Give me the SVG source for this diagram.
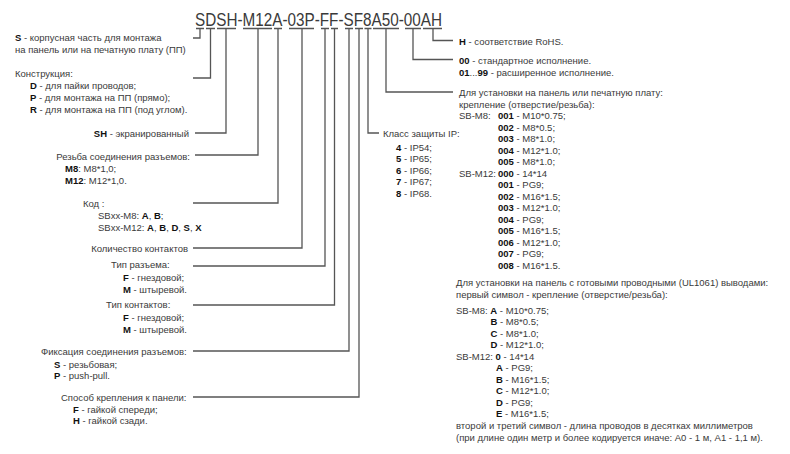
<svg xmlns="http://www.w3.org/2000/svg" width="790" height="454" viewBox="0 0 790 454">
<style>
.t{font-family:"Liberation Sans",Arial,sans-serif;font-size:9.5px;fill:#3a3a3a}
.e{text-anchor:end}
.b{font-weight:bold;fill:#111}
.title{font-family:"Liberation Sans",Arial,sans-serif;font-size:18px;fill:#3a3a3a}
.ln{fill:none;stroke:#555;stroke-width:1.3}
</style>
<rect width="790" height="454" fill="#fff"/>
<g id="code">
<text class="title" x="195" y="26" textLength="247" lengthAdjust="spacingAndGlyphs">SDSH-M12A-03P-FF-SF8A50-00AH</text>
<path class="ln" d="M196 28.5H204M206 28.5H215M217 28.5H236M243 28.5H272M274 28.5H282M289 28.5H314M321 28.5H329M331 28.5H338M345 28.5H353M355 28.5H363M364.5 28.5H371.5M373 28.5H399M405 28.5H421M423 28.5H442"/>
</g>
<g id="connectors">
<path class="ln" d="M200 28.5V38H193"/>
<path class="ln" d="M210.5 28.5V78H193"/>
<path class="ln" d="M226 28.5V133H195"/>
<path class="ln" d="M258 28.5V155H195"/>
<path class="ln" d="M278 28.5V203H193"/>
<path class="ln" d="M302 28.5V248H193"/>
<path class="ln" d="M325 28.5V266H193"/>
<path class="ln" d="M334.5 28.5V305H193"/>
<path class="ln" d="M349 28.5V351H193"/>
<path class="ln" d="M359 28.5V397H193"/>
<path class="ln" d="M368 28.5V133H379"/>
<path class="ln" d="M386 28.5V92H453"/>
<path class="ln" d="M413 28.5V59.5H453"/>
<path class="ln" d="M433 28.5V40.5H453"/>
</g>
<g id="n-s">
<text class="t" x="15" y="40.5"><tspan class="b">S</tspan> - корпусная часть для монтажа</text>
<text class="t" x="15" y="52.5">на панель или на печатную плату (ПП)</text>
</g>
<g id="n-d">
<text class="t" x="15" y="76.5">Конструкция:</text>
<text class="t" x="30" y="89"><tspan class="b">D</tspan> - для пайки проводов;</text>
<text class="t" x="30" y="101"><tspan class="b">P</tspan> - для монтажа на ПП (прямо);</text>
<text class="t" x="30" y="113"><tspan class="b">R</tspan> - для монтажа на ПП (под углом).</text>
</g>
<g id="n-sh">
<text class="t e" x="189" y="136.5"><tspan class="b">SH</tspan> - экранированный</text>
</g>
<g id="n-thread">
<text class="t e" x="190" y="159.5">Резьба соединения разъемов:</text>
<text class="t" x="65" y="171.5"><tspan class="b">M8</tspan>: M8*1,0;</text>
<text class="t" x="65" y="183.5"><tspan class="b">M12</tspan>: M12*1,0.</text>
</g>
<g id="n-key">
<text class="t" x="83" y="206.5">Код :</text>
<text class="t" x="98" y="218.5">SBxx-M8: <tspan class="b">A</tspan>, <tspan class="b">B</tspan>;</text>
<text class="t" x="98" y="230.5">SBxx-M12: <tspan class="b">A</tspan>, <tspan class="b">B</tspan>, <tspan class="b">D</tspan>, <tspan class="b">S</tspan>, <tspan class="b">X</tspan></text>
</g>
<g id="n-pins">
<text class="t e" x="188" y="251.5">Количество контактов</text>
</g>
<g id="n-conn-type">
<text class="t" x="111" y="267.5">Тип разъема:</text>
<text class="t" x="123" y="280.5"><tspan class="b">F</tspan> - гнездовой;</text>
<text class="t" x="123" y="292.5"><tspan class="b">M</tspan> - штыревой.</text>
</g>
<g id="n-contact-type">
<text class="t" x="106" y="308">Тип контактов:</text>
<text class="t" x="123" y="321"><tspan class="b">F</tspan> - гнездовой;</text>
<text class="t" x="123" y="332.5"><tspan class="b">M</tspan> - штыревой.</text>
</g>
<g id="n-lock">
<text class="t" x="41" y="355">Фиксация соединения разъемов:</text>
<text class="t" x="54" y="367.5"><tspan class="b">S</tspan> - резьбовая;</text>
<text class="t" x="54" y="379"><tspan class="b">P</tspan> - push-pull.</text>
</g>
<g id="n-mount">
<text class="t" x="61" y="401">Способ крепления к панели:</text>
<text class="t" x="73" y="412.5"><tspan class="b">F</tspan> - гайкой спереди;</text>
<text class="t" x="73" y="424"><tspan class="b">H</tspan> - гайкой сзади.</text>
</g>
<g id="n-ip">
<text class="t" x="383" y="137">Класс защиты IP:</text>
<text class="t" x="396" y="150.5"><tspan class="b">4</tspan> - IP54;</text>
<text class="t" x="396" y="162"><tspan class="b">5</tspan> - IP65;</text>
<text class="t" x="396" y="173.5"><tspan class="b">6</tspan> - IP66;</text>
<text class="t" x="396" y="185"><tspan class="b">7</tspan> - IP67;</text>
<text class="t" x="396" y="196.5"><tspan class="b">8</tspan> - IP68.</text>
</g>
<g id="n-rohs">
<text class="t" x="459" y="44.5"><tspan class="b">H</tspan> - соответствие RoHS.</text>
</g>
<g id="n-version">
<text class="t" x="459" y="63.5"><tspan class="b">00</tspan> - стандартное исполнение.</text>
<text class="t" x="459" y="76"><tspan class="b">01</tspan>...<tspan class="b">99</tspan> - расширенное исполнение.</text>
</g>
<g id="n-install">
<text class="t" x="459" y="96">Для установки на панель или печатную плату:</text>
<text class="t" x="459" y="107.5">крепление (отверстие/резьба):</text>
<text class="t" x="459" y="119">SB-M8:</text>
<text class="t" x="498" y="119"><tspan class="b">001</tspan> - M10*0.75;</text>
<text class="t" x="498" y="130.5"><tspan class="b">002</tspan> - M8*0.5;</text>
<text class="t" x="498" y="142"><tspan class="b">003</tspan> - M8*1.0;</text>
<text class="t" x="498" y="153.5"><tspan class="b">004</tspan> - M12*1.0;</text>
<text class="t" x="498" y="165"><tspan class="b">005</tspan> - M8*1.0;</text>
<text class="t" x="459" y="176.5">SB-M12:</text>
<text class="t" x="498" y="176.5"><tspan class="b">000</tspan> - 14*14</text>
<text class="t" x="498" y="188"><tspan class="b">001</tspan> - PG9;</text>
<text class="t" x="498" y="199.5"><tspan class="b">002</tspan> - M16*1.5;</text>
<text class="t" x="498" y="211"><tspan class="b">003</tspan> - M12*1.0;</text>
<text class="t" x="498" y="222.5"><tspan class="b">004</tspan> - PG9;</text>
<text class="t" x="498" y="234"><tspan class="b">005</tspan> - M16*1.5;</text>
<text class="t" x="498" y="245.5"><tspan class="b">006</tspan> - M12*1.0;</text>
<text class="t" x="498" y="257"><tspan class="b">007</tspan> - PG9;</text>
<text class="t" x="498" y="268.5"><tspan class="b">008</tspan> - M16*1.5.</text>
<text class="t" x="456" y="285.5">Для установки на панель с готовыми проводными (UL1061) выводами:</text>
<text class="t" x="456" y="297.5">первый символ - крепление (отверстие/резьба):</text>
<text class="t" x="456" y="313.5">SB-M8: <tspan class="b">A</tspan> - M10*0.75;</text>
<text class="t" x="490.5" y="325"><tspan class="b">B</tspan> - M8*0.5;</text>
<text class="t" x="490.5" y="336.5"><tspan class="b">C</tspan> - M8*1.0;</text>
<text class="t" x="490.5" y="348"><tspan class="b">D</tspan> - M12*1.0;</text>
<text class="t" x="456" y="359.5">SB-M12: <tspan class="b">0</tspan> - 14*14</text>
<text class="t" x="496" y="371"><tspan class="b">A</tspan> - PG9;</text>
<text class="t" x="496" y="382.5"><tspan class="b">B</tspan> - M16*1.5;</text>
<text class="t" x="496" y="394"><tspan class="b">C</tspan> - M12*1.0;</text>
<text class="t" x="496" y="405.5"><tspan class="b">D</tspan> - PG9;</text>
<text class="t" x="496" y="417"><tspan class="b">E</tspan> - M16*1.5;</text>
<text class="t" x="456" y="428.5">второй и третий символ - длина проводов в десятках миллиметров</text>
<text class="t" x="456" y="440.5">(при длине один метр и более кодируется иначе: А0 - 1 м, А1 - 1,1 м).</text>
</g>
</svg>
